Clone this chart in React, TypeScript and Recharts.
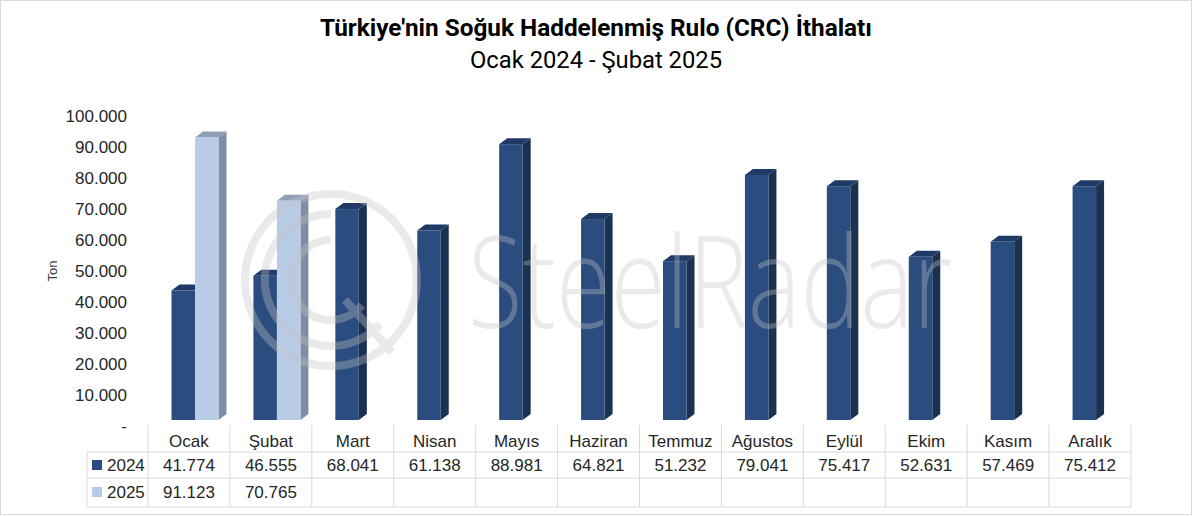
// Türkiye CRC ithalatı — 3D-görünümlü sütunlar + alt veri tablosu
import { BarChart, Bar, XAxis, YAxis } from 'recharts'

const months = ['Ocak', 'Şubat', 'Mart', 'Nisan', 'Mayıs', 'Haziran', 'Temmuz', 'Ağustos', 'Eylül', 'Ekim', 'Kasım', 'Aralık']
const imports2024 = [41774, 46555, 68041, 61138, 88981, 64821, 51232, 79041, 75417, 52631, 57469, 75412]
const imports2025: (number | null)[] = [91123, 70765, null, null, null, null, null, null, null, null, null, null]
const yTicks = [0, 10000, 20000, 30000, 40000, 50000, 60000, 70000, 80000, 90000, 100000]
const seriesNames = ['2024', '2025']

const data = months.map((m, i) => ({ month: m, y2024: imports2024[i], y2025: imports2025[i] }))

const W = 1193
const H = 516
const MARGIN = { top: 110, right: 62, bottom: 0, left: 68 }
const Y_AXIS_W = 80
const X_AXIS_H = 96
const PLOT_LEFT = MARGIN.left + Y_AXIS_W
const PLOT_W = W - PLOT_LEFT - MARGIN.right
const COL_W = PLOT_W / months.length
const LEGEND_LEFT = 87

const FONT = '"Liberation Sans", Arial, sans-serif'
const TEXT = '#262626'
const GRID = '#d9d9d9'

const COLORS = {
  y2024: { front: '#2B4C7E', side: '#1B3152', top: '#1F3A66' },
  y2025: { front: '#B8CCE8', side: '#7F8EA5', top: '#8E9FB7' },
}

// perspective offsets for the fake 3D look
const SHIFT_X = 6.5
const DEPTH_X = 8
const DEPTH_Y = 6

const fmt = (v: number) => (v === 0 ? '-' : String(v).replace(/\B(?=(\d{3})+(?!\d))/g, '.'))

function Bar3D(props: any) {
  const { x, y, width, height, colors } = props
  if (height == null || height <= 0) return null
  const fx = x + SHIFT_X
  const r = fx + width
  return (
    <g>
      <polygon
        points={`${r},${y} ${r + DEPTH_X},${y - DEPTH_Y} ${r + DEPTH_X},${y + height - DEPTH_Y} ${r},${y + height}`}
        fill={colors.side}
      />
      <polygon
        points={`${fx},${y} ${fx + DEPTH_X},${y - DEPTH_Y} ${r + DEPTH_X},${y - DEPTH_Y} ${r},${y}`}
        fill={colors.top}
      />
      <rect x={fx} y={y} width={width} height={height} fill={colors.front} />
    </g>
  )
}

function YTick(props: any) {
  const { x, y, payload } = props
  return (
    <text x={x} y={y + 6} textAnchor="end" dominantBaseline="central" fontFamily={FONT} fontSize={17} fill={TEXT}>
      {fmt(payload.value)}
    </text>
  )
}

// each x tick draws its own column of the data table
function TableTick(props: any) {
  const { x, y, index } = props
  const left = x - COL_W / 2
  const right = x + COL_W / 2
  const rows = [y + 32, y + 58, y + 87]
  const v24 = imports2024[index]
  const v25 = imports2025[index]
  const txt = { fontFamily: FONT, fontSize: 17, fill: TEXT, textAnchor: 'middle' as const, dominantBaseline: 'central' as const }
  return (
    <g>
      <line x1={left} x2={left} y1={y + 5} y2={rows[2]} stroke={GRID} />
      {index === months.length - 1 && <line x1={right} x2={right} y1={y + 5} y2={rows[2]} stroke={GRID} />}
      {rows.map(ry => (
        <line key={ry} x1={left} x2={right} y1={ry} y2={ry} stroke={GRID} />
      ))}
      <text x={x} y={y + 21} {...txt}>{months[index]}</text>
      <text x={x} y={y + 45} {...txt}>{v24 != null ? fmt(v24) : ''}</text>
      <text x={x} y={y + 72} {...txt}>{v25 != null ? fmt(v25) : ''}</text>
      {index === 0 && (
        <g>
          <line x1={LEGEND_LEFT} x2={LEGEND_LEFT} y1={rows[0]} y2={rows[2]} stroke={GRID} />
          <line x1={LEGEND_LEFT} x2={left} y1={rows[0]} y2={rows[0]} stroke={GRID} />
          <line x1={LEGEND_LEFT} x2={left} y1={rows[1]} y2={rows[1]} stroke={GRID} />
          <line x1={LEGEND_LEFT} x2={left} y1={rows[2]} y2={rows[2]} stroke={GRID} />
          {seriesNames.map((s, i) => {
            const cy = i === 0 ? y + 45 : y + 72
            const c = i === 0 ? COLORS.y2024.front : COLORS.y2025.front
            return (
              <g key={s}>
                <rect x={LEGEND_LEFT + 5} y={cy - 5} width={10} height={10} fill={c} />
                <text x={LEGEND_LEFT + 20} y={cy} fontFamily={FONT} fontSize={17} fill={TEXT} dominantBaseline="central">
                  {s}
                </text>
              </g>
            )
          })}
        </g>
      )}
    </g>
  )
}

function Overlay() {
  const wm = { fill: '#c4c4c4', opacity: 0.35 }
  return (
    <svg width={W} height={H} style={{ position: 'absolute', left: 0, top: 0, pointerEvents: 'none' }}>
      <rect x={0.5} y={0.5} width={W - 2} height={H - 2} fill="none" stroke={GRID} />
      <text
        x={596}
        y={36}
        textAnchor="middle"
        fontFamily="Roboto, sans-serif"
        fontWeight={700}
        fontSize={24}
        textLength={552}
        lengthAdjust="spacingAndGlyphs"
        fill="#000"
      >
        Türkiye'nin Soğuk Haddelenmiş Rulo (CRC) İthalatı
      </text>
      <text
        x={596}
        y={68}
        textAnchor="middle"
        fontFamily="Roboto, sans-serif"
        fontSize={24}
        textLength={252}
        lengthAdjust="spacingAndGlyphs"
        fill="#000"
      >
        Ocak 2024 - Şubat 2025
      </text>
      <text
        x={52}
        y={271}
        transform="rotate(-90 52 271)"
        textAnchor="middle"
        dominantBaseline="central"
        fontFamily={FONT}
        fontSize={13}
        fill="#404040"
      >
        Ton
      </text>
      {/* SteelRadar watermark */}
      <g opacity={wm.opacity} fill="none" stroke={wm.fill} strokeWidth={8}>
        <circle cx={331} cy={280} r={86} />
        <path d="M 331 214 A 66 66 0 1 0 380 324" />
        <path d="M 331 240 A 40 40 0 1 0 362 305" />
        <path d="M 345 300 L 392 352" />
      </g>
      <text
        x={468}
        y={328}
        fontFamily='"Open Sans", sans-serif'
        fontWeight={300}
        fontSize={127}
        textLength={484}
        lengthAdjust="spacingAndGlyphs"
        fill={wm.fill}
        opacity={wm.opacity}
      >
        SteelRadar
      </text>
    </svg>
  )
}

export default function App() {
  return (
    <div style={{ position: 'absolute', left: 0, top: 0, width: W, height: H, background: '#fff' }}>
      <BarChart width={W} height={H} data={data} margin={MARGIN} barGap={0} barSize={23.5}>
        <XAxis
          dataKey="month"
          height={X_AXIS_H}
          axisLine={false}
          tickLine={false}
          tickSize={0}
          tickMargin={0}
          interval={0}
          tick={<TableTick />}
        />
        <YAxis
          width={Y_AXIS_W}
          domain={[0, 100000]}
          ticks={yTicks}
          axisLine={false}
          tickLine={false}
          tickSize={0}
          tickMargin={21}
          tick={<YTick />}
        />
        <Bar dataKey="y2024" name="2024" isAnimationActive={false} shape={(p: any) => <Bar3D {...p} colors={COLORS.y2024} />} />
        <Bar dataKey="y2025" name="2025" isAnimationActive={false} shape={(p: any) => <Bar3D {...p} colors={COLORS.y2025} />} />
      </BarChart>
      <Overlay />
    </div>
  )
}
